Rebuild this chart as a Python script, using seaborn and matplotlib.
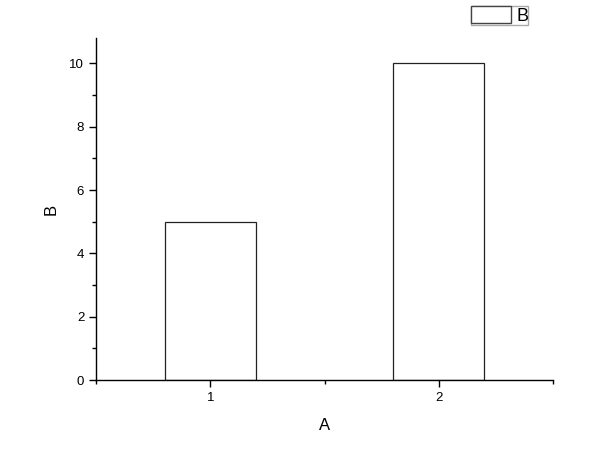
import matplotlib
matplotlib.use("Agg")
import matplotlib.pyplot as plt
import seaborn as sns
import pandas as pd
from matplotlib.patches import Patch
from matplotlib.ticker import MultipleLocator

# data
a_values = [1, 2]
b_values = [5, 10]
series_name = "B"

sns.set_style("ticks")
plt.rcParams['font.family'] = ['Liberation Sans', 'DejaVu Sans']
plt.rcParams['text.color'] = 'black'
plt.rcParams['axes.labelcolor'] = 'black'
plt.rcParams['xtick.color'] = 'black'
plt.rcParams['ytick.color'] = 'black'

df = pd.DataFrame({"A": a_values, "B": b_values})

fig = plt.figure(figsize=(6, 4.63), dpi=100)
ax = fig.add_axes([0.16, 0.179, 0.7617, 0.739])

sns.barplot(data=df, x="A", y="B", native_scale=True, width=0.4,
            color="white", edgecolor="#222222", linewidth=0.9, ax=ax)

ax.set_xlim(0.5, 2.5)
ax.set_ylim(0, 10.8)
ax.xaxis.set_major_locator(MultipleLocator(1))
ax.xaxis.set_minor_locator(MultipleLocator(0.5))
ax.yaxis.set_major_locator(MultipleLocator(2))
ax.yaxis.set_minor_locator(MultipleLocator(1))
ax.tick_params(which="major", direction="out", length=5, width=1, labelsize=9.5)
ax.tick_params(which="minor", direction="out", length=3, width=1)
ax.set_xlabel("A", fontsize=12, labelpad=10)
ax.set_ylabel("B", fontsize=12, labelpad=8)
for side in ["top", "right"]:
    ax.spines[side].set_visible(False)
for side in ["left", "bottom"]:
    ax.spines[side].set_linewidth(1)
    ax.spines[side].set_color("black")

handle = Patch(facecolor="white", edgecolor="#444444", linewidth=1, label=series_name)
fig.legend(handles=[handle], loc="upper left", bbox_to_anchor=(471 / 600, 1 - 6 / 463),
           frameon=True, fancybox=False, edgecolor="#aaaaaa", fontsize=13,
           borderpad=0.0, handlelength=2.2, handleheight=1.1, handletextpad=0.3,
           borderaxespad=0, framealpha=1)

fig.savefig("out.png", dpi=100)
